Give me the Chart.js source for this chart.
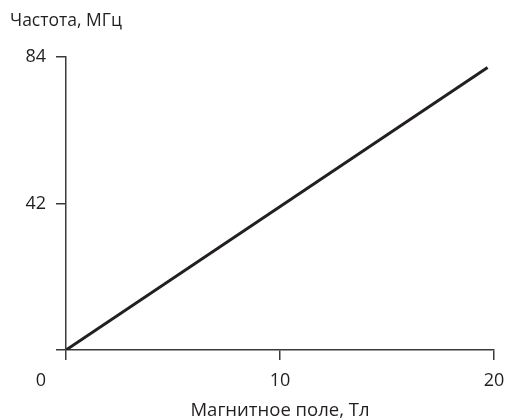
<!DOCTYPE html>
<html>
<head>
<meta charset="utf-8">
<script src="https://cdn.jsdelivr.net/npm/chart.js@4"></script>
<style>
  html, body { margin: 0; padding: 0; background: #fff; }
  #wrap { width: 506px; height: 420px; }
</style>
</head>
<body>
<div id="wrap"><canvas id="chart"></canvas></div>
<script>
// data
const field = [0, 19.7];          // Тл
const freq = [0, 81];             // МГц
const xTicks = [0, 10, 20];
const yTicks = [0, 42, 84];

const FONT = "'Open Sans', sans-serif";
const INK = "#231f20";
const AXIS = "#3a3a3a";

// the "0" in the corner sits left of the axis, so draw it by hand
const originLabel = {
    id: "originLabel",
    afterDraw(chart) {
        const ctx = chart.ctx;
        const x = chart.scales.x;
        ctx.save();
        ctx.font = "18px " + FONT;
        ctx.fillStyle = INK;
        ctx.textAlign = "center";
        ctx.textBaseline = "middle";
        ctx.fillText("0", x.left - 25, x.top + 31);
        ctx.restore();
    }
};

new Chart(document.getElementById("chart"), {
    type: "line",
    data: {
        datasets: [{
            data: field.map((b, i) => ({ x: b, y: freq[i] })),
            borderColor: INK,
            borderWidth: 3,
            pointRadius: 0,
            fill: false
        }]
    },
    plugins: [originLabel],
    options: {
        responsive: true,
        maintainAspectRatio: false,
        animation: false,
        layout: { padding: { left: 10, right: 12, top: 0, bottom: 0 } },
        plugins: {
            legend: { display: false },
            tooltip: { enabled: false },
            title: {
                display: true,
                text: "Частота, МГц",
                align: "start",
                color: INK,
                font: { family: FONT, size: 17.5, weight: "normal", lineHeight: 1.2 },
                padding: { top: 11, bottom: 25 }
            }
        },
        scales: {
            x: {
                type: "linear",
                min: 0,
                max: 20,
                afterBuildTicks: s => { s.ticks = xTicks.map(v => ({ value: v })); },
                afterFit: s => {
                    s.height = 70;
                    s.paddingLeft = 0;
                    s.paddingRight = 0;
                },
                grid: { drawOnChartArea: false, tickLength: 10, color: AXIS, lineWidth: 1.5 },
                border: { color: AXIS, width: 1.5 },
                ticks: {
                    color: INK,
                    padding: 10,
                    font: { family: FONT, size: 18 },
                    callback: v => v === 0 ? "" : v
                },
                title: {
                    display: true,
                    text: "Магнитное поле, Тл",
                    color: INK,
                    font: { family: FONT, size: 18.5, lineHeight: 1 },
                    padding: { top: 0, bottom: 0 }
                }
            },
            y: {
                type: "linear",
                min: 0,
                max: 84,
                afterBuildTicks: s => { s.ticks = yTicks.map(v => ({ value: v })); },
                afterFit: s => { s.width = 56; },
                grid: { drawOnChartArea: false, tickLength: 10, color: AXIS, lineWidth: 1.5 },
                border: { color: AXIS, width: 1.5 },
                ticks: {
                    color: INK,
                    padding: 10,
                    font: { family: FONT, size: 18 },
                    callback: v => v === 0 ? "" : v
                }
            }
        }
    }
});
</script>
</body>
</html>
